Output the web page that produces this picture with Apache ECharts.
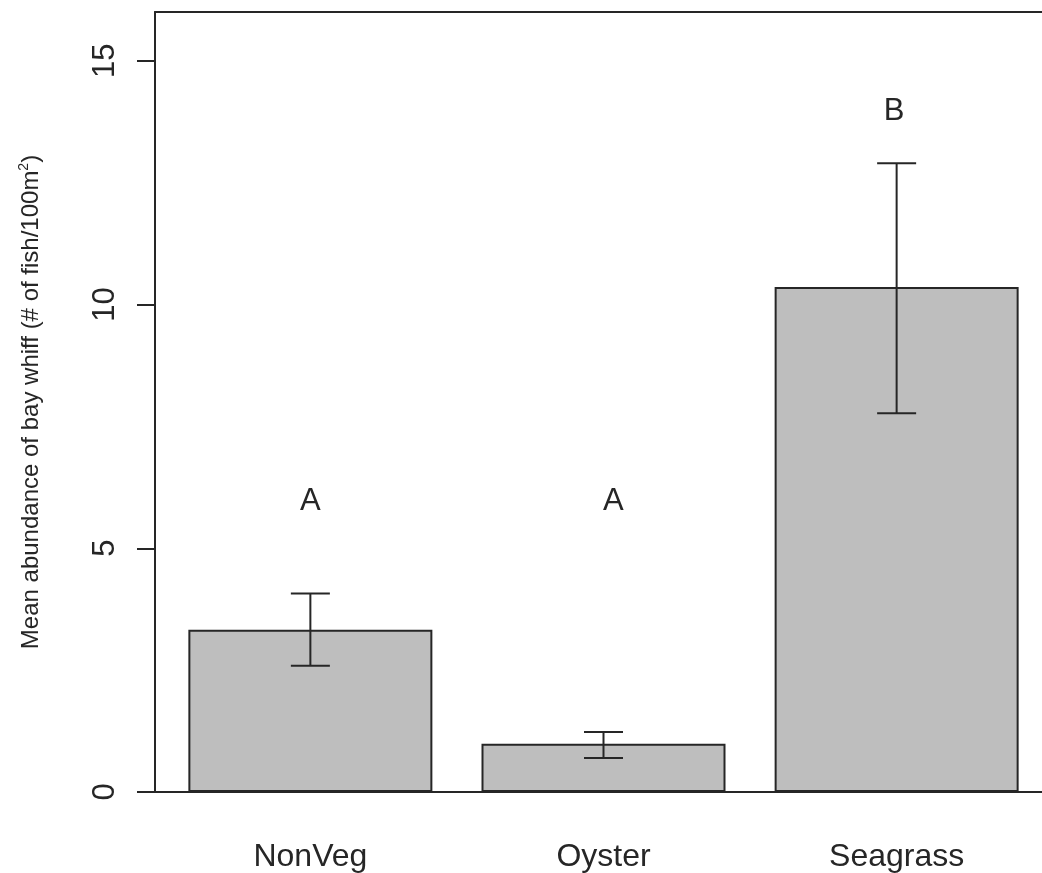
<!DOCTYPE html>
<html>
<head>
<meta charset="utf-8">
<script src="https://cdn.jsdelivr.net/npm/echarts@6/dist/echarts.min.js"></script>
<style>
  html, body { margin: 0; padding: 0; background: #ffffff; }
  #chart { width: 1042px; height: 873px; }
</style>
</head>
<body>
<div id="chart"></div>
<script>
// Bay whiff abundance by habitat type
const habitats = ['NonVeg', 'Oyster', 'Seagrass'];
const meanAbundance = [3.33, 0.99, 10.36];
const errLower = [2.59, 0.70, 7.77];
const errUpper = [4.07, 1.23, 12.90];
// significance letters, placed in bar-plot x units (bars centred at 0.7, 1.9, 3.1)
const groupLetters = ['A', 'A', 'B'];
const letterX = [0.70, 1.94, 3.09];
const letterY = [6, 6, 14];
const yTicks = [0, 5, 10, 15];

const INK = '#262626';
const FONT = 'Liberation Sans, Arial, sans-serif';

const chart = echarts.init(document.getElementById('chart'), null, { renderer: 'canvas' });

const errorData = habitats.map((h, i) => [i, errLower[i], errUpper[i]]);
const letterData = groupLetters.map((t, i) => [letterX[i], letterY[i]]);

chart.setOption({
  animation: false,
  backgroundColor: '#ffffff',
  grid: [
    // frame grid: y axis, top and bottom rules
    { left: 155, right: -10, top: 12, bottom: 81, outerBoundsMode: 'none', containLabel: false },
    // data grid: bars centred on categories
    { left: 163.8, right: -1.2, top: 12, bottom: 81, outerBoundsMode: 'none', containLabel: false }
  ],
  xAxis: [
    {
      gridIndex: 0, type: 'value', min: 0.064, max: 3.736, position: 'bottom',
      axisLine: { show: true, lineStyle: { color: INK, width: 2 } },
      axisTick: { show: false }, axisLabel: { show: false }, splitLine: { show: false }
    },
    {
      gridIndex: 0, type: 'value', min: 0.064, max: 3.736, position: 'top',
      axisLine: { show: true, lineStyle: { color: INK, width: 2 } },
      axisTick: { show: false }, axisLabel: { show: false }, splitLine: { show: false }
    },
    {
      gridIndex: 1, type: 'category', data: habitats, position: 'bottom',
      axisLine: { show: false }, axisTick: { show: false }, splitLine: { show: false },
      axisLabel: { show: true, color: INK, fontFamily: FONT, fontSize: 32, margin: 49 }
    }
  ],
  yAxis: [
    {
      gridIndex: 0, type: 'value', min: 0, max: 16, interval: 5,
      axisLine: { show: true, lineStyle: { color: INK, width: 2 } },
      axisTick: { show: true, length: 18, lineStyle: { color: INK, width: 2 }, customValues: yTicks },
      axisLabel: { show: true, rotate: 90, margin: 34, color: INK, fontFamily: FONT, fontSize: 31, customValues: yTicks },
      splitLine: { show: false },
      name: '{a|Mean abundance of bay whiff (# of fish/100m}{s|2}{a|)}',
      nameLocation: 'middle', nameGap: 110, nameRotate: 90,
      nameTextStyle: {
        rich: {
          a: { fontFamily: FONT, fontSize: 24, color: INK, lineHeight: 28 },
          s: { fontFamily: FONT, fontSize: 14, color: INK, verticalAlign: 'top', lineHeight: 28, padding: [0, 0, 10, 0] }
        }
      }
    },
    {
      gridIndex: 1, type: 'value', min: 0, max: 16,
      axisLine: { show: false }, axisTick: { show: false }, axisLabel: { show: false }, splitLine: { show: false }
    }
  ],
  series: [
    {
      type: 'bar', xAxisIndex: 2, yAxisIndex: 1,
      data: meanAbundance, barWidth: 244,
      itemStyle: { color: '#bebebe', borderColor: INK, borderWidth: 2 }
    },
    {
      type: 'custom', xAxisIndex: 2, yAxisIndex: 1, data: errorData,
      renderItem: function (params, api) {
        const c = api.value(0);
        const hi = api.coord([c, api.value(2)]);
        const lo = api.coord([c, api.value(1)]);
        const half = 19.5;
        const style = { stroke: INK, lineWidth: 2 };
        return {
          type: 'group',
          children: [
            { type: 'line', shape: { x1: hi[0], y1: hi[1], x2: lo[0], y2: lo[1] }, style: style },
            { type: 'line', shape: { x1: hi[0] - half, y1: hi[1], x2: hi[0] + half, y2: hi[1] }, style: style },
            { type: 'line', shape: { x1: lo[0] - half, y1: lo[1], x2: lo[0] + half, y2: lo[1] }, style: style }
          ]
        };
      },
      z: 5
    },
    {
      // significance group letters
      type: 'custom', xAxisIndex: 0, yAxisIndex: 0, data: letterData,
      encode: { x: 0, y: 1 },
      renderItem: function (params, api) {
        const p = api.coord([api.value(0), api.value(1)]);
        return {
          type: 'text',
          x: p[0], y: p[1] + 2,
          style: {
            text: groupLetters[params.dataIndex],
            fill: INK, fontFamily: FONT, fontSize: 31,
            align: 'center', verticalAlign: 'middle'
          }
        };
      },
      z: 6
    }
  ]
});
</script>
</body>
</html>
